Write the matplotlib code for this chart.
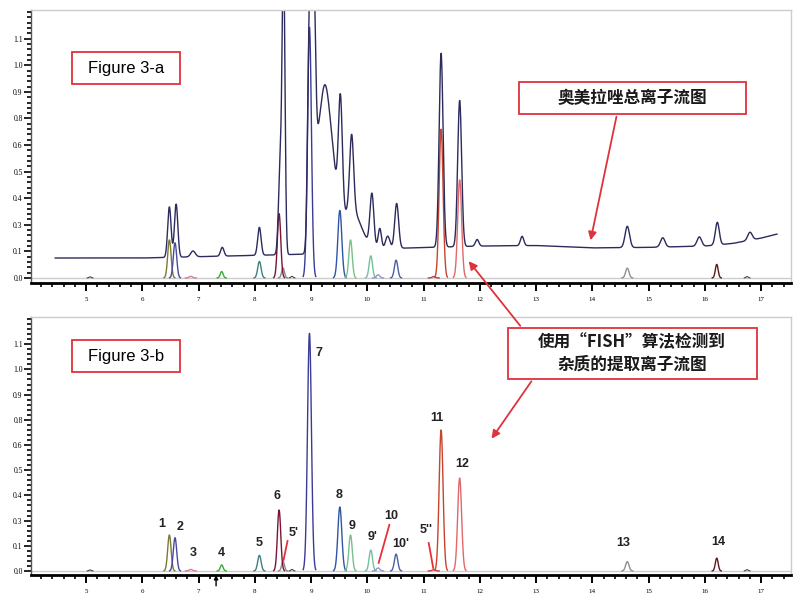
import numpy as np
import matplotlib
matplotlib.use('Agg')
import matplotlib.pyplot as plt
from matplotlib.patches import Rectangle, FancyArrowPatch

plt.rcParams['font.family'] = ['Liberation Sans', 'DejaVu Sans']
CJK = ['Noto Sans CJK SC', 'DejaVu Sans']

# y axis: evenly spaced ticks, labels exactly as printed on the original
ytick_labels = ['0.0', '0.1', '0.3', '0.4', '0.5', '0.6', '0.8', '0.9', '1.0', '1.1']

# total ion chromatogram (Figure 3-a): baseline level and peaks (rt, height above baseline, sigma)
tic_base_rt = [4.45, 6.0, 7.0, 8.0, 9.0, 10.0, 10.6, 12.0, 13.0, 14.0, 15.0, 16.0, 16.5, 17.0, 17.28]
tic_base_lv = [0.75, 0.75, 0.80, 0.85, 0.90, 1.00, 1.12, 1.20, 1.22, 1.13, 1.15, 1.20, 1.30, 1.50, 1.65]
tic_rt = [6.48, 6.60, 6.90, 7.42, 8.08, 8.45, 8.51, 8.97, 9.04, 9.12, 9.22, 9.38, 9.52, 9.65, 9.72,
          9.80, 10.08, 10.22, 10.36, 10.52, 11.31, 11.64, 11.95, 12.75, 14.62, 15.25, 15.90,
          16.22, 16.80]
tic_h = [1.9, 2.0, 0.22, 0.33, 1.05, 3.3, 11.0, 8.3, 9.5, 0.8, 5.5, 2.5, 4.3, 0.9, 2.8,
         1.0, 2.0, 0.8, 0.5, 1.7, 7.3, 5.5, 0.25, 0.35, 0.8, 0.35, 0.35, 0.85, 0.3]
tic_w = [0.03, 0.03, 0.04, 0.03, 0.03, 0.03, 0.025, 0.03, 0.035, 0.04, 0.10, 0.10, 0.035, 0.12,
         0.035, 0.15, 0.035, 0.03, 0.04, 0.035, 0.035, 0.035, 0.03, 0.03, 0.04, 0.04, 0.04,
         0.035, 0.04]

# extracted ion chromatograms of the impurities (same in both panels)
xic_names = ['1', '2', '3', '4', '5', "5'", '6', '7', '8', '9', "9'", '10', "10'", "5''",
             '11', '12', '13', '14']
xic_rt = [6.48, 6.58, 6.86, 7.41, 8.08, 8.50, 8.43, 8.97, 9.51, 9.70, 10.06, 10.19, 10.51, 11.18,
          11.31, 11.64, 14.62, 16.21]
xic_h = [1.43, 1.32, 0.06, 0.24, 0.62, 0.38, 2.42, 9.44, 2.54, 1.43, 0.83, 0.12, 0.67, 0.05,
         5.6, 3.69, 0.37, 0.51]
xic_w = [0.03, 0.03, 0.03, 0.025, 0.03, 0.025, 0.03, 0.035, 0.035, 0.03, 0.03, 0.03, 0.03, 0.03,
         0.035, 0.035, 0.03, 0.025]
xic_colors = ['#7a7a35', '#4a4a9c', '#d08090', '#3aa83a', '#3f8080', '#8a8a8a', '#7a1535',
              '#3b3b96', '#2f55a5', '#78c08c', '#72c0a0', '#9a90c8', '#4d5fa5', '#c04040',
              '#c8442c', '#e06868', '#909090', '#5a1a1a']
# tiny unlabelled traces
tiny_rt = [5.07, 8.66, 16.75]
tiny_h = [0.04, 0.06, 0.05]

# label placement (data coords in panel b) and leader lines
lab_xy = {'1': (6.35, 1.87), '2': (6.67, 1.75), '3': (6.90, 0.71), '4': (7.40, 0.71),
          '5': (8.08, 1.11), '6': (8.40, 2.98), "5'": (8.68, 1.50), '7': (9.13, 8.65),
          '8': (9.50, 3.02), '9': (9.73, 1.79), "9'": (10.09, 1.35), '10': (10.43, 2.18),
          "10'": (10.60, 1.07), "5''": (11.05, 1.63), '11': (11.23, 6.07), '12': (11.69, 4.25),
          '13': (14.55, 1.11), '14': (16.23, 1.15)}
leaders = [((8.58, 1.19), (8.51, 0.44)), ((10.39, 1.83), (10.20, 0.32)),
           ((11.09, 1.11), (11.17, 0.12))]

W, H = 806, 601
fig = plt.figure(figsize=(W / 100, H / 100), dpi=100)


def fx(px):
    return px / W


def fy(py):
    return 1 - py / H


def peak(t, rt, h, w):
    return h * np.exp(-0.5 * ((t - rt) / w) ** 2)


def style_axes(ax, ylo):
    ax.set_xlim(4.02, 17.53)
    ax.set_ylim(ylo, 10.08)
    ax.set_xticks(range(5, 18))
    ax.set_xticks(np.arange(4.2, 17.5, 0.2), minor=True)
    ax.set_yticks(range(10))
    ax.set_yticks(np.arange(0, 10.01, 0.2), minor=True)
    ax.set_yticklabels(ytick_labels, family='Liberation Serif', fontsize=5.5)
    ax.set_xticklabels([str(v) for v in range(5, 18)], family='Liberation Serif', fontsize=5)
    ax.tick_params(axis='x', which='major', length=6, width=1.4, pad=4, color='black')
    ax.tick_params(axis='x', which='minor', length=3, width=1.2)
    ax.tick_params(axis='y', which='major', length=5, width=1.2, pad=1)
    ax.tick_params(axis='y', which='minor', length=3, width=1.2)
    for s in ['top', 'right']:
        ax.spines[s].set_color('#cccccc')
        ax.spines[s].set_linewidth(1)
    ax.spines['left'].set_color('#555555')
    ax.spines['left'].set_linewidth(1)
    ax.spines['bottom'].set_linewidth(2)
    ax.axhline(0, color='#cccccc', lw=1, zorder=0)


def draw_xic(ax):
    for rt, h, w, c in zip(xic_rt, xic_h, xic_w, xic_colors):
        t = np.linspace(rt - 3.2 * w, rt + 3.2 * w, 60)
        ax.plot(t, peak(t, rt, h, w), color=c, lw=1.0)
    for rt, h in zip(tiny_rt, tiny_h):
        t = np.linspace(rt - 0.05, rt + 0.05, 20)
        ax.plot(t, peak(t, rt, h, 0.02), color='#444444', lw=0.8)


# ---- Figure 3-a
ax1 = fig.add_axes([fx(31), fy(283), fx(791) - fx(31), fy(10) - fy(283)])
style_axes(ax1, -0.19)
draw_xic(ax1)
t = np.linspace(tic_base_rt[0], tic_base_rt[-1], 3000)
tic = np.interp(t, tic_base_rt, tic_base_lv)
for rt, h, w in zip(tic_rt, tic_h, tic_w):
    tic = tic + peak(t, rt, h, w)
ax1.plot(t, tic, color='#2b2b5c', lw=1.0)

# ---- Figure 3-b
ax2 = fig.add_axes([fx(31), fy(575), fx(791) - fx(31), fy(317) - fy(575)])
style_axes(ax2, -0.16)
draw_xic(ax2)
for name in xic_names:
    x, y = lab_xy[name]
    ax2.text(x, y, name, ha='center', va='center', fontsize=9, fontweight='bold', color='#222222')
for (x0, y0), (x1, y1) in leaders:
    ax2.plot([x0, x1], [y0, y1], color='#e8303a', lw=1.3)
ax2.annotate('', xy=(7.31, -0.05), xytext=(7.31, -0.7), annotation_clip=False,
             arrowprops=dict(arrowstyle='-|>', color='black', lw=1, mutation_scale=6))

# ---- boxes and arrows
red = '#e0323c'


def box(x0, y0, x1, y1):
    fig.add_artist(Rectangle((fx(x0), fy(y1)), fx(x1) - fx(x0), fy(y0) - fy(y1),
                             transform=fig.transFigure, fill=True, facecolor='white',
                             edgecolor=red, lw=1.3, zorder=5))


box(72, 52, 180, 84)
fig.text(fx(126), fy(68), 'Figure 3-a', ha='center', va='center', fontsize=12, zorder=6)
box(72, 340, 180, 372)
fig.text(fx(126), fy(356), 'Figure 3-b', ha='center', va='center', fontsize=12, zorder=6)
box(519, 82, 746, 114)
fig.text(fx(632), fy(98), '奥美拉唑总离子流图', ha='center', va='center', fontsize=12,
         fontweight='bold', family=CJK, color='#1a1a1a', zorder=6)
box(508, 328, 757, 379)
fig.text(fx(632), fy(342), '使用“FISH”算法检测到', ha='center', va='center', fontsize=12,
         fontweight='bold', family=CJK, color='#1a1a1a', zorder=6)
fig.text(fx(632), fy(365), '杂质的提取离子流图', ha='center', va='center', fontsize=12,
         fontweight='bold', family=CJK, color='#1a1a1a', zorder=6)

for (x0, y0), (x1, y1) in [((617, 114), (590, 243)), ((522, 328), (467, 259)),
                           ((533, 379), (490, 441))]:
    fig.add_artist(FancyArrowPatch((fx(x0), fy(y0)), (fx(x1), fy(y1)),
                                   transform=fig.transFigure, arrowstyle='-|>',
                                   mutation_scale=12, color=red, lw=1.3, zorder=6))

fig.savefig('out.png', dpi=100)
